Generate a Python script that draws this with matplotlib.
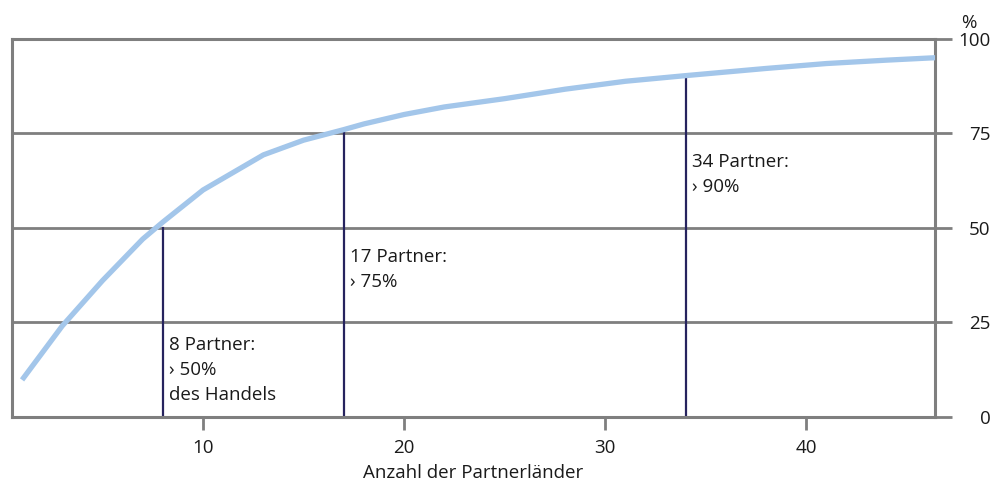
import matplotlib.pyplot as plt

plt.rcParams['font.family'] = ['Open Sans', 'DejaVu Sans']

# Anteil am Handel (kumuliert, %) nach Anzahl der Partnerländer
partner = [1, 3, 5, 7, 8, 10, 13, 15, 17, 18, 20, 22, 25, 28, 31, 34, 38, 41, 44, 47]
anteil = [9.7, 24, 36, 47, 51.5, 60, 69.3, 73.2, 76, 77.5, 80, 82, 84.2, 86.7, 88.8,
          90.3, 92.2, 93.5, 94.4, 95.2]

marker_x = [8, 17, 34]
marker_y = [50, 75, 90]
marker_text = ["8 Partner:\n› 50%\ndes Handels", "17 Partner:\n› 75%", "34 Partner:\n› 90%"]
marker_text_y = [21.3, 44.7, 69.9]

yticks = [0, 25, 50, 75, 100]
xticks = [10, 20, 30, 40]

grey = '#7f7f7f'
navy = '#26235e'
blue = '#a3c6ea'
txt = '#1a1a1a'
fs = 13.5

fig = plt.figure(figsize=(9.94, 4.84), dpi=100)
ax = fig.add_axes([12 / 994, 1 - 416.5 / 484, 923 / 994, 377.5 / 484])

xmin, xmax = 0.5, 46.4
ax.set_xlim(xmin, xmax)
ax.set_ylim(0, 100)

# horizontal grid lines, extended beyond the right spine
for y in yticks:
    ax.plot([xmin, xmax + 0.85], [y, y], color=grey, lw=2, clip_on=False, zorder=1,
            solid_capstyle='butt')

for x, y in zip(marker_x, marker_y):
    ax.plot([x, x], [0, y], color=navy, lw=1.6, zorder=2)

ax.plot(partner, anteil, color=blue, lw=3.8, zorder=3, solid_capstyle='butt')

for x, y, t in zip(marker_x, marker_text_y, marker_text):
    ax.text(x + 0.3, y, t, fontsize=fs, va='top', ha='left', linespacing=1.5,
            color=txt)

for s in ['left', 'right', 'bottom', 'top']:
    ax.spines[s].set_color(grey)
    ax.spines[s].set_linewidth(2.2)

ax.yaxis.tick_right()
ax.set_yticks(yticks)
ax.set_yticklabels([str(v) for v in yticks], ha='right')
ax.tick_params(axis='y', length=0, pad=40, labelsize=fs, colors=txt)
ax.set_xticks(xticks)
ax.tick_params(axis='x', length=9, width=2, color=grey, pad=7, labelsize=fs,
               labelcolor=txt)

ax.text(1.037, 1.043, '%', transform=ax.transAxes, fontsize=fs, ha='center',
        va='center', color=txt)
ax.set_xlabel('Anzahl der Partnerländer', fontsize=fs, labelpad=5, color=txt)

fig.savefig('out.png', dpi=100)
